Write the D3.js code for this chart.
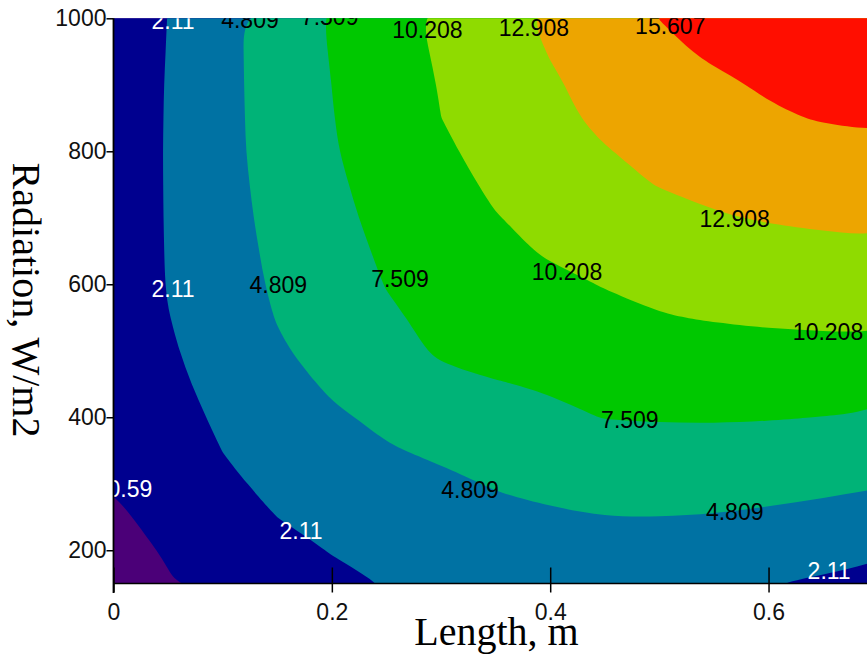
<!doctype html>
<html>

<head>
  <meta charset="utf8"/>
  <style>
    body { margin: 0; background: #fff; }
  </style>
</head>

<body>
  <svg width='867' height='657'></svg>
  <script src="https://d3js.org/d3.v7.min.js"></script>

  <script>

    // sample grid: columns are lengths, rows are radiations
    var lengths = [0, 0.05, 0.1, 0.15, 0.2, 0.25, 0.3, 0.35, 0.4, 0.45, 0.5, 0.55, 0.6, 0.65, 0.7];
    var radiations = [150, 200, 250, 300, 350, 400, 450, 500, 550,
                      600, 650, 700, 750, 800, 850, 900, 950, 1000];

    var power = [
      [-1.3, -0.72, 0.2, 1.0, 1.65, 2.17, 2.45, 2.6, 2.65, 2.6, 2.5, 2.35, 2.15, 1.85, 1.45],
      [-1.2, -0.43, 0.55, 1.4, 2.2, 2.85, 3.35, 3.7, 3.9, 3.95, 3.85, 3.6, 3.25, 2.9, 2.45],
      [-0.93, 0.08, 1.1, 2.12, 2.85, 3.45, 3.95, 4.35, 4.55, 4.8, 4.8, 4.7, 4.45, 4.1, 3.7],
      [-0.45, 0.75, 1.8, 2.5, 3.2, 3.83, 4.4, 4.95, 5.35, 5.6, 5.75, 5.75, 5.6, 5.35, 5.0],
      [-0.38, 1.05, 2.13, 2.98, 3.85, 4.65, 5.14, 5.72, 6.22, 6.58, 6.7, 6.72, 6.61, 6.42, 6.13],
      [-0.3, 1.4, 2.42, 3.46, 4.5, 5.25, 5.88, 6.5, 7.1, 7.57, 7.66, 7.68, 7.62, 7.48, 7.27],
      [-0.2, 1.6, 2.8, 3.98, 5.12, 6.05, 7.1, 7.4, 7.72, 8.15, 8.4, 8.55, 8.6, 8.57, 8.47],
      [-0.1, 1.84, 3.16, 4.53, 5.71, 6.83, 7.75, 8.3, 8.75, 9.08, 9.32, 9.5, 9.6, 9.65, 9.67],
      [-0.05, 2.05, 3.44, 4.9, 6.05, 7.22, 8.02, 8.65, 9.23, 9.69, 10.1, 10.33, 10.5, 10.6, 10.65],
      [0.0, 2.23, 3.71, 5.13, 6.38, 7.58, 8.29, 9.0, 9.71, 10.3, 10.75, 11.08, 11.34, 11.5, 11.6],
      [0.03, 2.27, 3.82, 5.3, 6.66, 7.85, 8.75, 9.65, 10.45, 11.0, 11.5, 11.9, 12.2, 12.38, 12.51],
      [0.05, 2.3, 3.93, 5.48, 6.93, 8.11, 9.12, 10.13, 10.77, 11.37, 12.05, 12.75, 13.05, 13.25, 13.42],
      [0.08, 2.31, 4.02, 5.62, 7.14, 8.32, 9.39, 10.6, 11.35, 12.3, 13.0, 13.4, 13.76, 14.03, 14.26],
      [0.1, 2.32, 4.1, 5.76, 7.35, 8.53, 9.95, 10.74, 11.77, 12.81, 13.42, 13.95, 14.47, 14.8, 15.1],
      [0.18, 2.29, 4.12, 5.81, 7.44, 8.75, 10.2, 11.3, 12.45, 13.3, 14.0, 14.75, 15.35, 15.75, 15.95],
      [0.25, 2.26, 4.13, 5.86, 7.52, 8.93, 10.33, 11.5, 12.67, 13.55, 14.45, 15.25, 15.85, 16.3, 16.7],
      [0.18, 2.2, 4.12, 5.92, 7.64, 9.09, 10.52, 11.78, 13.0, 14.01, 15.2, 15.9, 16.45, 16.9, 17.3],
      [0.1, 2.15, 4.1, 5.98, 7.75, 9.25, 10.7, 12.06, 13.34, 14.47, 15.63, 16.3, 16.95, 17.45, 17.9]
    ];

    var levels = [-0.59, 2.11, 4.809, 7.509, 10.208, 12.908, 15.607];
    var bandColors = ['#4b0078', '#00008f', '#0072a3', '#00b377', '#00c800',
                      '#8fdb00', '#eda500', '#ff0e00'];

    var xTicks = [0, 0.2, 0.4, 0.6];
    var yTicks = [200, 400, 600, 800, 1000];

    // contour labels as drawn in the picture
    var labelText = ['2.11', '4.809', '7.509', '10.208', '12.908', '15.607',
                     '2.11', '4.809', '7.509', '10.208', '12.908', '10.208',
                     '7.509', '4.809', '4.809', '2.11', '2.11', '-0.59'];
    var labelLength = [0.0545, 0.125, 0.198, 0.2875, 0.385, 0.51,
                       0.0545, 0.151, 0.2624, 0.4154, 0.569, 0.6545,
                       0.473, 0.3266, 0.569, 0.1718, 0.6555, 0.0115];
    var labelRadiation = [984, 985, 990, 970, 973, 977,
                          581, 587, 596, 606, 686, 516,
                          384, 278, 245, 217, 157, 280];
    var whiteLabels = ['-0.59', '2.11'];

    var svg = d3.select('svg'),
        plotLeft = 113.5, plotRight = 866.8, plotTop = 18.3, plotBottom = 583.5;

    var x = d3.scaleLinear().domain([0, 0.69]).range([plotLeft, plotRight]);
    var y = d3.scaleLinear().domain([150, 1000]).range([plotBottom, plotTop]);

    svg.append('clipPath')
       .attr('id', 'plot')
     .append('rect')
       .attr('x', plotLeft)
       .attr('y', plotTop)
       .attr('width', 867 - plotLeft)
       .attr('height', plotBottom - plotTop);

    var g = svg.append('g').attr('clip-path', 'url(#plot)');

    g.append('rect')
     .attr('x', plotLeft)
     .attr('y', plotTop)
     .attr('width', 867 - plotLeft)
     .attr('height', plotBottom - plotTop)
     .attr('fill', bandColors[0]);

    var nx = lengths.length, ny = radiations.length;
    var contours = d3.contours()
                     .size([nx, ny])
                     .thresholds(levels)(d3.merge(power));

    // grid coordinates -> data values (samples sit at cell centres)
    var gxToL = d3.scaleLinear().domain([0.5, nx - 0.5]).range([lengths[0], lengths[nx - 1]]);
    var gyToR = d3.scaleLinear().domain([0.5, ny - 0.5]).range([radiations[0], radiations[ny - 1]]);

    var ringLine = d3.line().curve(d3.curveBasisClosed);

    function contourPath(c) {
      return c.coordinates.map(function(poly) {
        return poly.map(function(ring) {
          var pts = ring.slice(0, -1).map(function(p) {
            return [x(gxToL(p[0])), y(gyToR(p[1]))];
          });
          return ringLine(pts);
        }).join('');
      }).join('');
    }

    g.selectAll('path.band')
     .data(contours)
     .enter().append('path')
       .attr('class', 'band')
       .attr('d', contourPath)
       .attr('fill', function(d, i) { return bandColors[i + 1]; });

    g.selectAll('text.lbl')
     .data(labelText)
     .enter().append('text')
       .attr('class', 'lbl')
       .attr('x', function(d, i) { return x(labelLength[i]); })
       .attr('y', function(d, i) { return y(labelRadiation[i]); })
       .attr('text-anchor', 'middle')
       .attr('font-family', 'Liberation Sans, Arial, sans-serif')
       .attr('font-size', 23)
       .attr('fill', function(d) { return whiteLabels.indexOf(d) >= 0 ? '#fff' : '#000'; })
       .text(function(d) { return d; });

    // axes
    var xAxis = svg.append('g')
       .attr('transform', 'translate(0,' + plotBottom + ')')
       .call(d3.axisBottom(x).tickValues(xTicks).tickSizeOuter(0)
               .tickFormat(function(d) { return d; }));
    xAxis.select('.domain').remove();
    xAxis.selectAll('.tick line').attr('y1', -16).attr('y2', 9)
         .attr('stroke', '#000').attr('stroke-width', 1.5);
    xAxis.selectAll('.tick text')
         .attr('y', 620 - plotBottom).attr('dy', 0)
         .attr('fill', '#111')
         .attr('font-family', 'Liberation Sans, Arial, sans-serif')
         .attr('font-size', 23);

    var yAxis = svg.append('g')
       .attr('transform', 'translate(' + plotLeft + ',0)')
       .call(d3.axisLeft(y).tickValues(yTicks).tickSize(7).tickPadding(0).tickSizeOuter(0)
               .tickFormat(function(d) { return d; }));
    yAxis.select('.domain').remove();
    yAxis.selectAll('.tick line').attr('stroke', '#000').attr('stroke-width', 1.5);
    yAxis.selectAll('.tick text')
         .attr('fill', '#111')
         .attr('font-family', 'Liberation Sans, Arial, sans-serif')
         .attr('font-size', 23);

    svg.append('line')
       .attr('x1', plotLeft).attr('x2', plotLeft)
       .attr('y1', plotTop).attr('y2', 593)
       .attr('stroke', '#000').attr('stroke-width', 1.8);
    svg.append('line')
       .attr('x1', plotLeft).attr('x2', 867)
       .attr('y1', plotBottom).attr('y2', plotBottom)
       .attr('stroke', '#000').attr('stroke-width', 1.5);

    svg.append('text')
       .attr('x', 496.5)
       .attr('y', 645)
       .attr('text-anchor', 'middle')
       .attr('font-family', 'Liberation Serif, Times New Roman, serif')
       .attr('font-size', 40)
       .text('Length, m');

    svg.append('text')
       .attr('transform', 'translate(13,300) rotate(90)')
       .attr('text-anchor', 'middle')
       .attr('font-family', 'Liberation Serif, Times New Roman, serif')
       .attr('font-size', 40)
       .text('Radiation, W/m2');
  </script>
</body>

</html>
